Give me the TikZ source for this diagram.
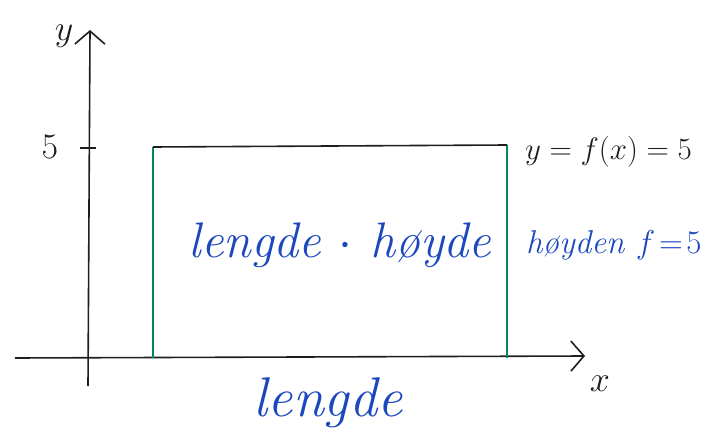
\RequirePackage{fix-cm}
\documentclass[tikz,border=0pt]{standalone}
\usepackage{tikz}
\usepackage{xcolor}
\usetikzlibrary{arrows.meta,positioning,calc}
\definecolor{penBlue}{RGB}{28,72,190}
\definecolor{penGreen}{RGB}{0,140,80}
\definecolor{penBlack}{RGB}{30,30,30}
\tikzset{
  axis/.style={-{Straight Barb[length=13pt,width=30pt]}, line width=1.6pt, draw=penBlack},
  side/.style={line width=1.5pt, draw=penGreen},
  topline/.style={line width=1.6pt, draw=penBlack},
  tick/.style={line width=1.6pt, draw=penBlack},
  lab/.style={font=\fontsize{36}{40}\selectfont, text=penBlack, inner sep=0pt},
  hand/.style={font=\fontsize{46}{50}\selectfont\itshape, text=penBlue, inner sep=0pt}
}
\begin{document}
\begin{tikzpicture}[x=1pt,y=-1pt]
  \useasboundingbox (0,0) rectangle (726,444);
  \coordinate (origin) at (88,358);
  \coordinate (ybot) at (88,386);
  \coordinate (ytop) at (90,30);
  \coordinate (xleft) at (15,358);
  \coordinate (xright) at (585,356);
  \coordinate (bl) at (153,358);
  \coordinate (tl) at (153,147);
  \coordinate (br) at (507,358);
  \coordinate (tr) at (507,145);

  % axes
  \draw[axis] (ybot) -- (ytop);
  \draw[axis] (xleft) -- (xright);
  \draw[tick] (80,148) -- (96,148);

  % rectangle under f(x)=5
  \draw[side] (bl) -- (tl);
  \draw[side] (br) -- (tr);
  \draw[topline] (tl) -- (tr);

  % labels
  \node[lab] (ylab) at (64,36) {$y$};
  \node[lab] (xlab) at (600,384) {$x$};
  \node[lab] (five) at (50,147) {$5$};
  \node[lab, font=\fontsize{31}{35}\selectfont, anchor=west] (func) at (525,152) {$y=f(x)=5$};
  \node[hand, font=\fontsize{50}{54}\selectfont\itshape] (area) at (340,245) {lengde $\cdot$ høyde};
  \node[hand, font=\fontsize{33}{37}\selectfont\itshape, anchor=west] (height) at (526,245) {høyden $f\!=\!5$};
  \node[hand, font=\fontsize{56}{60}\selectfont\itshape] (width) at (328,403) {lengde};
\end{tikzpicture}
\end{document}
